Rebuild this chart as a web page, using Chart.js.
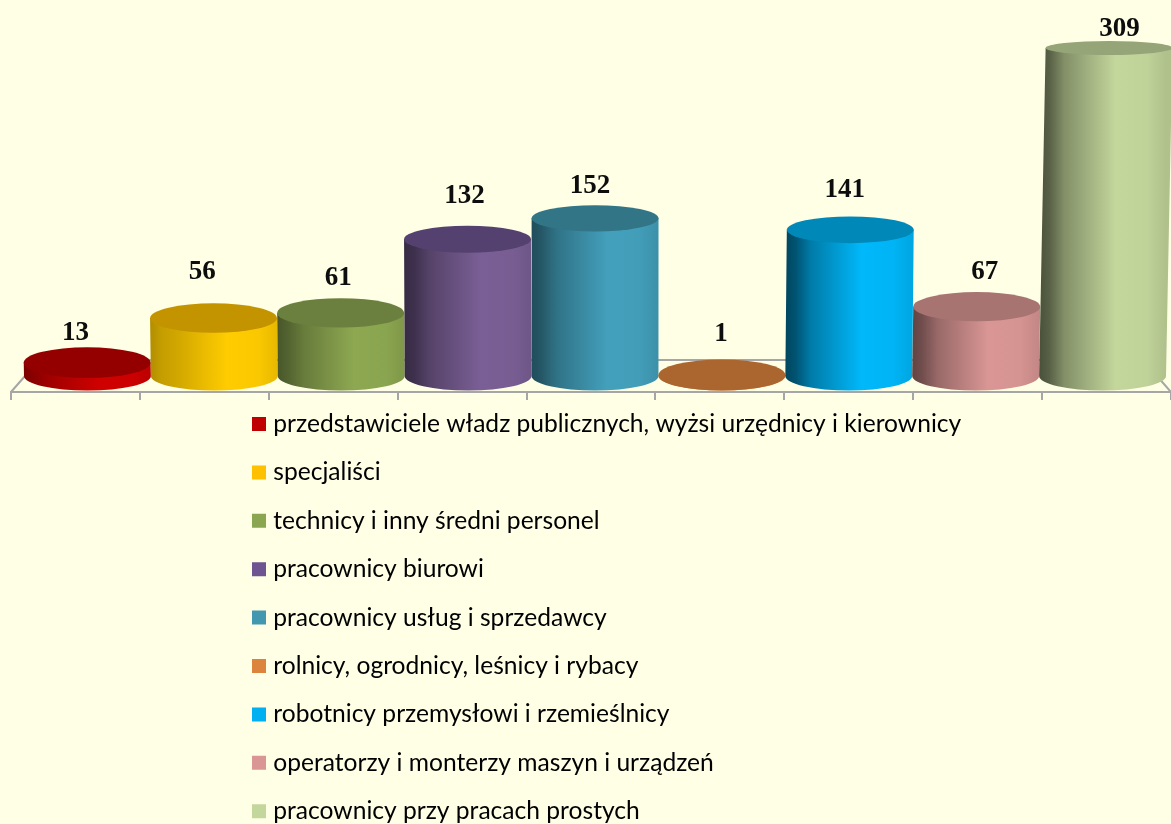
<!DOCTYPE html>
<html lang="pl">
<head>
<meta charset="utf-8">
<style>
html,body{margin:0;padding:0;background:#FFFFE6;overflow:hidden}
canvas{display:block}
</style>
<script src="https://cdn.jsdelivr.net/npm/chart.js@4"></script>
</head>
<body>
<canvas id="c" width="1171" height="824"></canvas>
<script>
const categories = [
  "przedstawiciele władz publicznych, wyżsi urzędnicy i kierownicy",
  "specjaliści",
  "technicy i inny średni personel",
  "pracownicy biurowi",
  "pracownicy usług i sprzedawcy",
  "rolnicy, ogrodnicy, leśnicy i rybacy",
  "robotnicy przemysłowi i rzemieślnicy",
  "operatorzy i monterzy maszyn i urządzeń",
  "pracownicy przy pracach prostych"
];
const values = [13, 56, 61, 132, 152, 1, 141, 67, 309];
const legendColors = ["#C00000","#FFC000","#8BA650","#6E5490","#4198AF","#DD843C","#00B0F0","#D99694","#C3D69B"];
const bodyColors = ["#D00000","#FFCC00","#8DA851","#7A5F96","#43A0BC","#DD843C","#00B8FA","#D99694","#C3D69B"];
const edgeShade = [.6,.7,.52,.45,.48,.8,.38,.45,.38];
const labelNudgeX = [-12,-12,-3,-3.5,-5,-1,-4,9,17];
const labelLift = [29.6,46,35,43.5,32.5,41,40,34.7,19];

function shade(hex, k){
  const n = parseInt(hex.slice(1),16);
  const f = v => Math.round(Math.min(255, v*k));
  return `rgb(${f(n>>16&255)},${f(n>>8&255)},${f(n&255)})`;
}

const GRID = "#A6A6A6";
const DEPTH = 16, FLOOR_SCALE = 127/129, FLOOR_LEFT = 24;

const cylinders = {
  id:"cylinders",
  afterLayout(chart){
    const l = chart.legend;
    l.left = 233.2; l.right = 1171; l.top = 387.9; l.bottom = 900;
    l.width = l.right-l.left; l.height = l.bottom-l.top;
  },
  beforeDatasetsDraw(chart){
    const {ctx, chartArea:a} = chart;
    const by = a.bottom, back = by-32, d = 28;
    ctx.save();
    ctx.strokeStyle = GRID; ctx.lineWidth = 2;
    ctx.beginPath();
    ctx.moveTo(a.left, by); ctx.lineTo(a.left+d, back);
    ctx.lineTo(a.right-d, back); ctx.lineTo(a.right, by);
    ctx.stroke();
    ctx.restore();
  },
  afterDatasetsDraw(chart){
    const {ctx, chartArea:a, scales} = chart;
    const meta = chart.getDatasetMeta(0);
    const baseY = scales.y.getPixelForValue(0)-DEPTH;
    const ryOf = y => 7+8.5*Math.sqrt(Math.max(0,(y-48)/327));
    ctx.save();
    meta.data.forEach((bar,i)=>{
      const cx = FLOOR_SCALE*(bar.x-a.left)+FLOOR_LEFT;
      const hw = bar.width*FLOOR_SCALE/2;
      const flatH = baseY-(bar.y-DEPTH);
      const h = flatH+8.5*Math.pow(flatH/320,4);
      const topY = baseY-h;
      const dx = (cx-585)/520*(h/327)*6.5;
      const c = bodyColors[i], e = edgeShade[i];
      const g = ctx.createLinearGradient(cx-hw,0,cx+hw,0);
      g.addColorStop(0,shade(c,e));
      g.addColorStop(.08,shade(c,e+.07));
      g.addColorStop(.2,shade(c,.5+e*.45));
      g.addColorStop(.6,shade(c,1));
      g.addColorStop(.85,shade(c,.98));
      g.addColorStop(1,shade(c,.9));
      ctx.fillStyle = g;
      ctx.beginPath();
      ctx.moveTo(cx-hw,baseY);
      ctx.lineTo(cx-hw+dx,topY);
      ctx.lineTo(cx+hw+dx,topY);
      ctx.lineTo(cx+hw,baseY);
      ctx.ellipse(cx,baseY,hw,14.5,0,0,Math.PI);
      ctx.closePath();
      ctx.fill();
      ctx.fillStyle = shade(legendColors[i],.77);
      ctx.beginPath();
      ctx.ellipse(cx+dx,topY,hw,ryOf(topY),0,0,Math.PI*2);
      ctx.fill();
      ctx.fillStyle = "#0d0d0d";
      ctx.font = "bold 27px 'Liberation Serif'";
      ctx.textAlign = "center"; ctx.textBaseline = "middle";
      ctx.fillText(String(values[i]),cx+labelNudgeX[i],topY-labelLift[i]);
    });
    ctx.restore();
  }
};

new Chart(document.getElementById("c"),{
  type:"bar",
  data:{labels:categories,datasets:[{data:values,backgroundColor:"rgba(0,0,0,0)",barPercentage:1,categoryPercentage:1}]},
  plugins:[cylinders],
  options:{
    responsive:false,animation:false,events:[],
    layout:{padding:{left:10,right:-1,top:0,bottom:424}},
    scales:{
      x:{ticks:{display:false,autoSkip:false},
         border:{color:GRID,width:2},
         grid:{drawOnChartArea:false,color:GRID,tickColor:GRID,tickLength:8,lineWidth:2}},
      y:{display:false,min:0,max:379}
    },
    plugins:{
      tooltip:{enabled:false},
      legend:{
        position:"left",align:"start",maxWidth:1,
        labels:{
          usePointStyle:true,pointStyle:"rect",boxWidth:4,boxHeight:14,padding:23.8,
          color:"#262626",font:{family:"Lato",size:24.6},
          generateLabels(){return categories.map((t,i)=>({text:t,fillStyle:legendColors[i],strokeStyle:legendColors[i],lineWidth:0,pointStyle:"rect",index:i}));}
        }
      }
    }
  }
});
</script>
</body>
</html>
